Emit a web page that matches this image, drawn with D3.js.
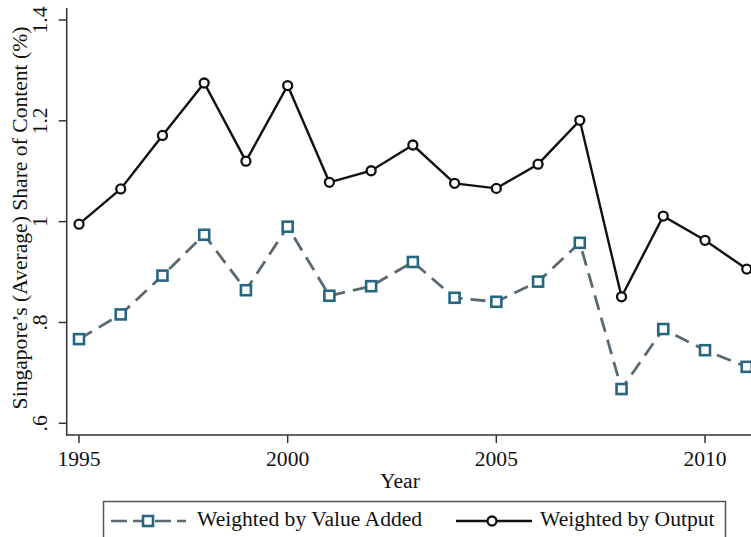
<!DOCTYPE html>
<html>
<head>
<meta charset="utf-8">
<script src="https://cdn.jsdelivr.net/npm/d3@7"></script>
<style>
  html, body { margin: 0; padding: 0; background: #fff; }
  svg { display: block; }
  text { font-family: "Liberation Serif", "Times New Roman", serif; fill: #111; }
</style>
</head>
<body>
<svg id="chart" width="751" height="537"></svg>
<script>
const years = [1995, 1996, 1997, 1998, 1999, 2000, 2001, 2002, 2003, 2004, 2005, 2006, 2007, 2008, 2009, 2010, 2011];
const valueAdded = [0.767, 0.816, 0.893, 0.974, 0.864, 0.990, 0.853, 0.872, 0.920, 0.849, 0.841, 0.881, 0.958, 0.668, 0.787, 0.745, 0.712];
const output = [0.995, 1.065, 1.171, 1.275, 1.120, 1.270, 1.078, 1.101, 1.152, 1.076, 1.066, 1.114, 1.201, 0.851, 1.011, 0.963, 0.906];
const yTicks = [0.6, 0.8, 1.0, 1.2, 1.4];
const yTickLabels = [".6", ".8", "1", "1.2", "1.4"];
const xTicks = [1995, 2000, 2005, 2010];
const seriesNames = ["Weighted by Value Added", "Weighted by Output"];
const xTitle = "Year";
const yTitle = "Singapore\u2019s (Average) Share of Content (%)";

const svg = d3.select("#chart");
const FS = 21.6;
const axisColor = "#333";
const vaLine = "#5b6a72";
const vaMarker = "#276680";

const x = d3.scaleLinear().domain([1995, 2010]).range([79, 705]);
const y = d3.scaleLinear().domain([0.6, 1.4]).range([423.3, 20]);

const plotLeft = 66.7, plotBottom = 435, plotTop = 8;

// axes lines
svg.append("line").attr("x1", plotLeft).attr("x2", plotLeft).attr("y1", plotTop).attr("y2", plotBottom + 0.75)
  .attr("stroke", axisColor).attr("stroke-width", 1.5);
svg.append("line").attr("x1", plotLeft - 0.75).attr("x2", 751).attr("y1", plotBottom).attr("y2", plotBottom)
  .attr("stroke", axisColor).attr("stroke-width", 1.5);

// y ticks
const yg = svg.append("g");
yg.selectAll("line").data(yTicks).join("line")
  .attr("x1", plotLeft - 8).attr("x2", plotLeft)
  .attr("y1", d => y(d)).attr("y2", d => y(d))
  .attr("stroke", axisColor).attr("stroke-width", 1.5);
yg.selectAll("text").data(yTicks).join("text")
  .attr("transform", d => `translate(${47},${y(d)}) rotate(-90)`)
  .attr("text-anchor", "middle")
  .style("font-size", FS + "px")
  .text((d, i) => yTickLabels[i]);

// x ticks
const xg = svg.append("g");
xg.selectAll("line").data(xTicks).join("line")
  .attr("x1", d => x(d)).attr("x2", d => x(d))
  .attr("y1", plotBottom).attr("y2", plotBottom + 8)
  .attr("stroke", axisColor).attr("stroke-width", 1.5);
xg.selectAll("text").data(xTicks).join("text")
  .attr("x", d => x(d)).attr("y", 466)
  .attr("text-anchor", "middle")
  .style("font-size", FS + "px")
  .text(d => d);

// titles
svg.append("text").attr("x", 400).attr("y", 488).attr("text-anchor", "middle")
  .style("font-size", FS + "px").text(xTitle);
svg.append("text").attr("transform", `translate(27,${218}) rotate(-90)`).attr("text-anchor", "middle")
  .style("font-size", FS + "px").text(yTitle);

// lines
const line = d3.line().x((d, i) => x(years[i])).y(d => y(d));
svg.append("path").datum(valueAdded).attr("d", line)
  .attr("fill", "none").attr("stroke", vaLine).attr("stroke-width", 2.8)
  .attr("stroke-dasharray", "15,8");
svg.append("path").datum(output).attr("d", line)
  .attr("fill", "none").attr("stroke", "#111").attr("stroke-width", 2.4);

// markers
svg.append("g").selectAll("rect").data(valueAdded).join("rect")
  .attr("x", (d, i) => x(years[i]) - 5).attr("y", d => y(d) - 5)
  .attr("width", 10).attr("height", 10)
  .attr("fill", "#fff").attr("stroke", vaMarker).attr("stroke-width", 2.6);
svg.append("g").selectAll("circle").data(output).join("circle")
  .attr("cx", (d, i) => x(years[i])).attr("cy", d => y(d)).attr("r", 4.5)
  .attr("fill", "#fff").attr("stroke", "#111").attr("stroke-width", 2.3);

// legend
const lg = svg.append("g");
lg.append("rect").attr("x", 103.5).attr("y", 501.5).attr("width", 622).attr("height", 60)
  .attr("fill", "none").attr("stroke", "#555").attr("stroke-width", 1.5);
const ly = 521;
lg.append("line").attr("x1", 111).attr("x2", 186).attr("y1", ly).attr("y2", ly)
  .attr("stroke", vaLine).attr("stroke-width", 2.6).attr("stroke-dasharray", "16,6");
lg.append("rect").attr("x", 148 - 5).attr("y", ly - 5).attr("width", 10).attr("height", 10)
  .attr("fill", "#fff").attr("stroke", vaMarker).attr("stroke-width", 2.6);
lg.append("text").attr("x", 197).attr("y", 526).style("font-size", FS + "px").text(seriesNames[0]);
lg.append("line").attr("x1", 456).attr("x2", 532).attr("y1", ly).attr("y2", ly)
  .attr("stroke", "#111").attr("stroke-width", 2.4);
lg.append("circle").attr("cx", 492).attr("cy", ly).attr("r", 4.5)
  .attr("fill", "#fff").attr("stroke", "#111").attr("stroke-width", 2.3);
lg.append("text").attr("x", 540).attr("y", 526).style("font-size", FS + "px").text(seriesNames[1]);
</script>
</body>
</html>
